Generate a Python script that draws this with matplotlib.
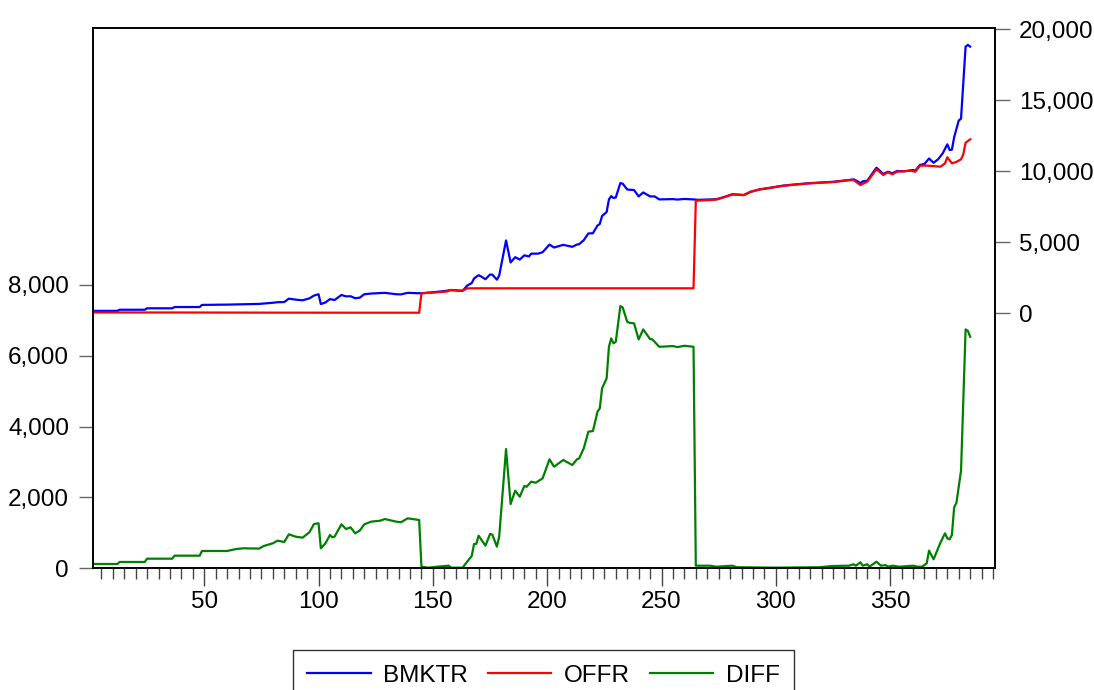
import numpy as np
import matplotlib
matplotlib.use("Agg")
import matplotlib.pyplot as plt
from matplotlib.ticker import FuncFormatter, MultipleLocator

plt.rcParams['font.family'] = ['Liberation Sans', 'DejaVu Sans']

bmktr_obs = [1, 12, 13, 24, 25, 36, 37, 48, 49, 60, 74, 80, 82, 85, 87, 90, 93, 96, 98, 100,
             101, 103, 105, 107, 110, 112, 114, 116, 118, 120, 123, 127, 129, 132, 134, 136, 139,
             144, 146, 150, 155, 158, 161, 163, 165, 167, 168, 170, 171, 173, 175, 176, 178, 179,
             182, 184, 186, 188, 190, 192, 193, 196, 198, 201, 203, 207, 211, 213, 214, 216, 218,
             220, 222, 223, 224, 226, 227, 228, 229, 230, 232, 233, 235, 236, 238, 240, 242, 245,
             247, 249, 255, 257, 260, 264, 266, 274, 277, 281, 286, 289, 293, 296, 303, 306, 314,
             325, 332, 334, 336, 337, 338, 340, 344, 347, 349, 351, 353, 356, 360, 361, 363, 365,
             367, 369, 371, 373, 375, 376, 377, 378, 380, 381, 383, 384, 385]
bmktr = [170, 170, 250, 250, 350, 350, 440, 440, 590, 610, 660, 740, 780, 790, 1030, 960, 915, 1050, 1250, 1340,
         650, 760, 1000, 935, 1290, 1190, 1200, 1060, 1100, 1340, 1390, 1420, 1440, 1380, 1340, 1330, 1440,
         1410, 1420, 1480, 1560, 1640, 1600, 1580, 1950, 2130, 2450, 2680, 2600, 2400, 2730, 2720, 2370, 2650,
         5130, 3580, 3950, 3780, 4080, 4000, 4200, 4200, 4300, 4840, 4630, 4820, 4680, 4840, 4870, 5150, 5620,
         5640, 6180, 6290, 6850, 7130, 8020, 8250, 8120, 8160, 9170, 9130, 8720, 8700, 8680, 8230, 8510, 8230,
         8230, 8020, 8040, 8010, 8050, 8020, 7990, 8030, 8170, 8380, 8330, 8565, 8730, 8800, 8985, 9035, 9155,
         9260, 9385, 9435, 9270, 9160, 9290, 9340, 10255, 9810, 9970, 9860, 10020, 9990, 10090, 10040, 10445, 10515,
         10900, 10600, 10850, 11265, 11900, 11500, 11520, 12400, 13580, 13700, 18780, 18900, 18780]

# OFFR (right scale)
offr_obs = [1, 40, 80, 120, 144, 145, 150, 156, 158, 162, 163, 165, 264, 265, 270, 274, 277, 281,
            286, 289, 293, 296, 303, 306, 314, 325, 332, 334, 337, 340, 344, 347, 349, 351, 353, 359,
            361, 363, 366, 372, 374, 375, 377, 379, 381, 382, 383, 385]
offr = [60, 55, 45, 40, 40, 1410, 1460, 1530, 1640, 1580, 1600, 1760, 1760, 7930, 7960, 8010, 8150, 8370,
        8320, 8550, 8720, 8790, 8970, 9020, 9140, 9240, 9370, 9385, 9030, 9270, 10140, 9740, 9930, 9790, 9970, 10045,
        9970, 10395, 10400, 10325, 10560, 10990, 10560, 10660, 10845, 11200, 12015, 12250]

# DIFF (left scale)
diff_obs = [1, 12, 13, 24, 25, 36, 37, 48, 49, 60, 64, 67, 74, 76, 80, 82, 85, 87, 90, 93, 96, 98, 100,
            101, 103, 105, 106, 107, 110, 112, 114, 116, 118, 120, 123, 127, 129, 132, 134, 136, 139, 144,
            145, 148, 152, 157, 158, 163, 165, 167, 168, 169, 170, 173, 175, 176, 178, 179, 182, 184, 186,
            188, 190, 191, 193, 195, 198, 201, 203, 207, 211, 213, 214, 216, 218, 220, 222, 223, 224, 226,
            227, 228, 229, 230, 232, 233, 235, 236, 238, 240, 242, 245, 246, 249, 255, 257, 260, 264, 265,
            271, 274, 281, 283, 300, 319, 325, 332, 334, 335, 337, 338, 340, 341, 344, 346, 348, 349, 351,
            354, 360, 362, 364, 366, 367, 369, 372, 374, 375, 376, 377, 378, 379, 381, 383, 384, 385]
diff = [121, 121, 178, 178, 271, 271, 356, 356, 488, 488, 544, 564, 556, 629, 705, 780, 742, 959, 892, 864, 1015, 1250, 1270,
        564, 705, 940, 874, 892, 1240, 1108, 1157, 987, 1062, 1240, 1316, 1344, 1390, 1344, 1316, 1297, 1410, 1362,
        45, 17, 45, 73, 17, 17, 186, 347, 686, 690, 920, 638, 968, 950, 610, 892, 3365, 1814, 2190,
        2020, 2322, 2300, 2443, 2415, 2539, 3075, 2866, 3055, 2914, 3075, 3103, 3385, 3854, 3873, 4418, 4513, 5078, 5360,
        6251, 6488, 6347, 6393, 7400, 7363, 6957, 6929, 6911, 6460, 6742, 6469, 6460, 6251, 6271, 6243, 6280, 6251, 73,
        73, 45, 73, 30, 17, 30, 65, 73, 113, 73, 169, 73, 113, 45, 186, 73, 90, 45, 73,
        45, 73, 45, 45, 141, 497, 254, 722, 987, 846, 817, 939, 1721, 1851, 2753, 6742, 6700, 6533]

fig = plt.figure(figsize=(10.94, 6.90), dpi=100)
ax = fig.add_axes([0.0847, 0.1764, 0.8251, 0.7826])
ax2 = ax.twinx()

ax2.plot(bmktr_obs, bmktr, color="#0000FF", lw=1.6, label="BMKTR")
ax2.plot(offr_obs, offr, color="#FF0000", lw=1.6, label="OFFR")
ax.plot(diff_obs, diff, color="#008000", lw=1.6, label="DIFF")

ax.set_xlim(1.2, 396)
ax.set_ylim(0, 15240)
ax2.set_ylim(-17958, 20070)

fmt = FuncFormatter(lambda v, p: "{:,.0f}".format(v))
ax.set_yticks([0, 2000, 4000, 6000, 8000])
ax.yaxis.set_major_formatter(fmt)
ax2.set_yticks([0, 5000, 10000, 15000, 20000])
ax2.yaxis.set_major_formatter(fmt)

ax.xaxis.set_major_locator(MultipleLocator(50))
ax.xaxis.set_minor_locator(MultipleLocator(5))
ax.set_xticks([50, 100, 150, 200, 250, 300, 350])

ax.tick_params(axis="x", which="major", length=13, width=1, color="#444444", pad=3, labelsize=17.5)
ax.tick_params(axis="x", which="minor", length=8, width=1, color="#444444")
ax.tick_params(axis="y", length=10, width=1, color="#666666", pad=7, labelsize=17.5)
ax2.tick_params(axis="y", length=11, width=1, color="#666666", pad=6, labelsize=17.5)

for a in (ax, ax2):
    for s in a.spines.values():
        s.set_linewidth(1.2)
        s.set_color("black")

handles = ax2.get_lines() + ax.get_lines()
leg = fig.legend(handles=handles, labels=["BMKTR", "OFFR", "DIFF"], loc="upper center",
                 bbox_to_anchor=(0.4968, 0.058), ncol=3, fontsize=17.5, frameon=True, fancybox=False,
                 handlelength=2.6, handletextpad=0.5, columnspacing=0.85, borderpad=0.6,
                 borderaxespad=0)
leg.get_frame().set_edgecolor("black")
leg.get_frame().set_linewidth(1.0)

fig.savefig("out.png", dpi=100)
